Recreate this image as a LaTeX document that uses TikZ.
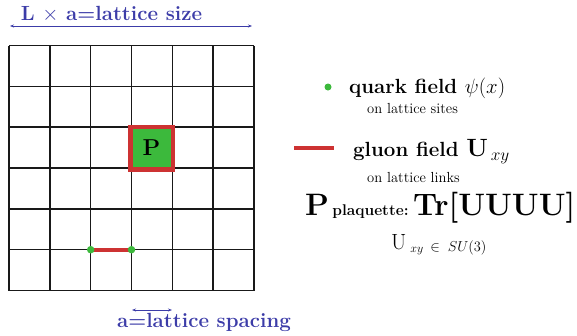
\documentclass[tikz,border=0pt]{standalone}
\usepackage{amsmath}
\usetikzlibrary{arrows.meta}
\definecolor{lblue}{RGB}{60,60,168}
\definecolor{lred}{RGB}{205,50,50}
\definecolor{lgreen}{RGB}{60,185,60}
\tikzset{
  gridline/.style={line width=1.4pt, black!90},
  dimarrow/.style={lblue, line width=0.7pt, {Stealth[length=4pt,width=3pt]}-{Stealth[length=4pt,width=3pt]}},
  site/.style={circle, fill=lgreen, inner sep=0pt, minimum size=7.5pt},
  link/.style={lred, line width=4pt},
  txt/.style={inner sep=0pt},
}
\begin{document}
\begin{tikzpicture}[x=1pt,y=-1pt]
\useasboundingbox (0,0) rectangle (577,335);
% grid
\foreach \i in {0,...,6} {
  \draw[gridline] ({9+\i*40.83},45.5) -- ({9+\i*40.83},290.5);
  \draw[gridline] (9,{45.5+\i*40.83}) -- (254,{45.5+\i*40.83});
}
% plaquette
\node[draw=lred, line width=4.5pt, fill=lgreen, minimum size=42.5pt, inner sep=0pt] (P) at (151.5,148.4) {\raisebox{2pt}{\fontsize{23}{25}\selectfont\bfseries P}};
% link and sites
\coordinate (s1) at (90.7,249.7);
\coordinate (s2) at (131.5,249.7);
\draw[link] (s1) -- (s2);
\node[site] (d1) at (s1) {};
\node[site] (d2) at (s2) {};
% dimension arrows
\coordinate (t1) at (10,26);
\coordinate (t2) at (252,26);
\draw[dimarrow] (t1) -- (t2);
\node[txt, lblue, anchor=base] (tl) at (111.5,20.5) {\fontsize{20.5}{22}\selectfont\bfseries L $\times$ a=lattice size};
\coordinate (b1) at (132,310);
\coordinate (b2) at (172,310);
\draw[dimarrow] (b1) -- (b2);
\node[txt, lblue, anchor=base] (bl) at (204,327) {\fontsize{20.5}{22}\selectfont\bfseries a=lattice spacing};
% legend
\node[site, minimum size=7pt] (q) at (328,87) {};
\node[txt, anchor=base west] (qt) at (349,93) {\fontsize{20.5}{22}\selectfont\bfseries quark field $\psi(x)$};
\node[txt, anchor=base west] (qs) at (367,113.5) {\fontsize{14.6}{16}\selectfont on lattice sites};
\coordinate (g1) at (294,148);
\coordinate (g2) at (334,148);
\draw[link] (g1) -- (g2);
\node[txt, anchor=base west] (gt) at (353,156) {\fontsize{20.5}{22}\selectfont\bfseries gluon field {\fontsize{25}{27}\selectfont U}\raisebox{-4pt}{\fontsize{17}{18}\selectfont$\,xy$}};
\node[txt, anchor=base west] (gs) at (367,182) {\fontsize{14.6}{16}\selectfont on lattice links};
\node[txt, anchor=base west] (pt) at (305,215) {{\fontsize{31}{33}\selectfont\bfseries P} {\fontsize{15.5}{17}\selectfont\bfseries plaquette:} {\fontsize{31}{33}\selectfont\bfseries Tr[UUUU]}};
\node[txt, anchor=base west] (su) at (391,249) {{\fontsize{22}{24}\selectfont U}\hspace{4pt}\raisebox{-3pt}{\fontsize{11.5}{12}\selectfont$xy$}\hspace{7pt}\raisebox{-2pt}{\fontsize{14}{15}\selectfont$\in$\hspace{8pt}$SU(3)$}};
\end{tikzpicture}
\end{document}
